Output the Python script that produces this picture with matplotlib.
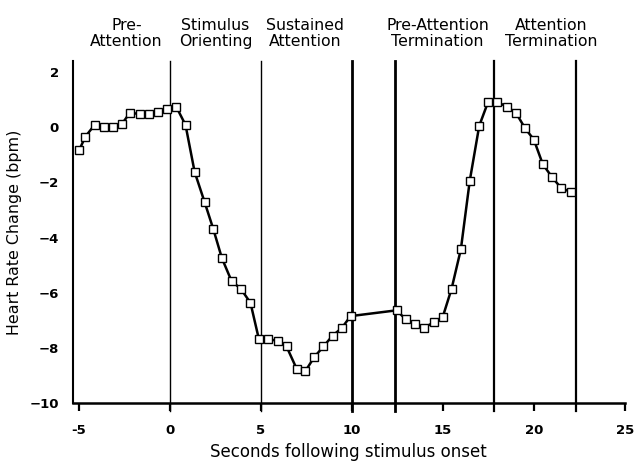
import matplotlib
matplotlib.use("Agg")
import matplotlib.pyplot as plt

plt.rcParams['font.family'] = ['DejaVu Sans']

# ---------- data ----------
t = [-5.0, -4.65, -4.15, -3.65, -3.15, -2.65, -2.2, -1.65, -1.15, -0.65,
     -0.15, 0.35, 0.85, 1.35, 1.9, 2.37, 2.85, 3.38, 3.89, 4.42,
     4.88, 5.4, 5.91, 6.4, 6.95, 7.43, 7.92, 8.43, 8.93, 9.44,
     9.92, 12.45, 12.94, 13.45, 13.95, 14.49, 14.99, 15.47, 15.98, 16.47,
     16.99, 17.48, 17.98, 18.53, 19.0, 19.5, 19.99, 20.48, 21.0, 21.51,
     22.02]
hr = [-0.84, -0.34, 0.08, -0.01, -0.01, 0.11, 0.53, 0.47, 0.47, 0.56,
      0.65, 0.73, 0.08, -1.62, -2.72, -3.68, -4.75, -5.58, -5.86, -6.37,
      -7.68, -7.68, -7.75, -7.95, -8.75, -8.85, -8.34, -7.95, -7.56, -7.28,
      -6.85, -6.64, -6.96, -7.15, -7.27, -7.08, -6.87, -5.86, -4.43, -1.94,
      0.05, 0.92, 0.92, 0.73, 0.53, -0.03, -0.45, -1.34, -1.82, -2.22,
      -2.34]

# phase boundaries (s) and their line widths
bounds = [0, 5, 10, 12.35, 17.8, 22.3]
bound_lw = [1.0, 1.0, 2.0, 2.0, 1.6, 1.6]

phases = ["Pre-\nAttention", "Stimulus\nOrienting", "Sustained\nAttention",
          "Pre-Attention\nTermination", "Attention\nTermination"]
phase_x = [-2.4, 2.5, 7.4, 14.7, 20.95]

xticks = [-5, 0, 5, 10, 15, 20, 25]
xtick_labels = ["-5", "0", "5", "10", "15", "20", "25"]
yticks = [2, 0, -2, -4, -6, -8, -10]

# ---------- plot ----------
fig = plt.figure(figsize=(6.36, 4.63), dpi=100)
ax = fig.add_axes([0.1143, 0.1296, 0.8684, 0.7387])

for x, lw in zip(bounds, bound_lw):
    ax.axvline(x, ymin=-0.024, ymax=1, color='black', lw=lw, clip_on=False, zorder=1)

ax.plot(t, hr, '-s', color='black', lw=1.8, markersize=5.5,
        markerfacecolor='white', markeredgecolor='black', markeredgewidth=1.0, zorder=3)

for x, s in zip(phase_x, phases):
    ax.text(x, 1.035, s, transform=ax.get_xaxis_transform(), ha='center', va='bottom',
            fontsize=11.3, linespacing=1.05)

ax.set_xlim(-5.35, 25)
ax.set_ylim(-10, 2.4)
ax.set_xticks(xticks)
ax.set_xticklabels(xtick_labels, fontsize=9.5, fontweight='bold')
ax.set_yticks(yticks)
ax.set_yticklabels([str(v).replace('-', '\u2212') for v in yticks], fontsize=9.5, fontweight='bold')

ax.spines['top'].set_visible(False)
ax.spines['right'].set_visible(False)
ax.spines['left'].set_linewidth(1.5)
ax.spines['bottom'].set_linewidth(1.8)
ax.tick_params(axis='x', direction='out', length=6, width=1.6, pad=9)
ax.tick_params(axis='y', length=0, pad=10)

ax.set_xlabel("Seconds following stimulus onset", fontsize=12)
ax.set_ylabel("Heart Rate Change (bpm)", fontsize=11.4)
ax.xaxis.set_label_coords(0.5, -0.118)
ax.yaxis.set_label_coords(-0.092, 0.5)

plt.savefig("out.png", dpi=100)
